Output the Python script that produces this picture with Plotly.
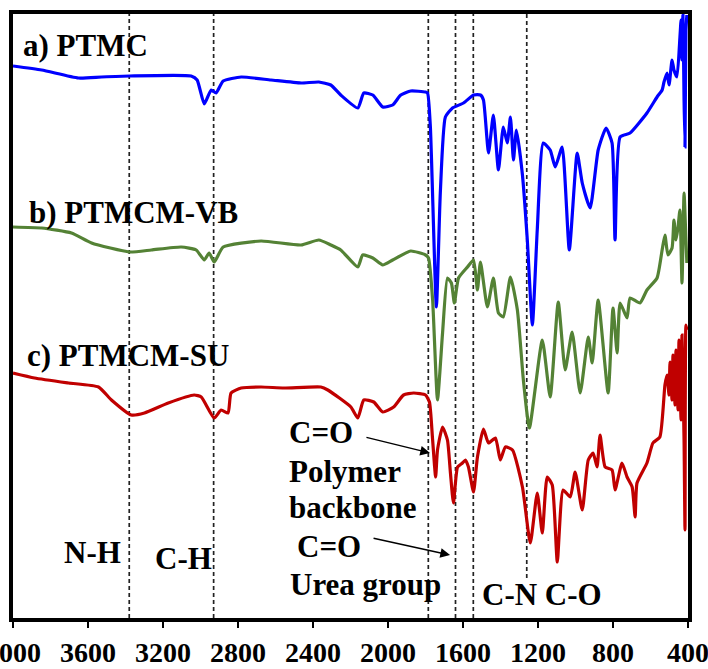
import plotly.graph_objects as go

# FTIR spectra (transmittance, arbitrary units, stacked with offsets)
wn_ptmc = [4000, 3847, 3651, 3528, 3379, 3050, 3018, 2980, 2943, 2917, 2879, 2783, 2624, 2464,
           2369, 2305, 2252, 2161, 2129, 2081, 2028, 1975, 1932, 1879, 1800, 1789, 1774, 1742,
           1721, 1694, 1656, 1597, 1544, 1507, 1491, 1464, 1438, 1411, 1385, 1364, 1347, 1331,
           1315, 1283, 1257, 1230, 1204, 1172, 1135, 1108, 1071, 1033, 991, 964, 922, 879, 837,
           805, 789, 762, 709, 619, 565, 538, 528, 512, 501, 485, 475, 459, 443, 437, 432, 427,
           421, 416, 411, 406]
t_ptmc = [554, 550, 542, 543, 544, 544, 540, 516, 530, 527, 539, 543, 540, 537,
          538, 535, 525, 512, 527, 525, 513, 515, 525, 529, 528, 527, 493, 313,
          427, 503, 512, 517, 525, 525, 520, 467, 505, 450, 493, 477, 503, 460,
          490, 445, 380, 295, 390, 477, 470, 453, 473, 370, 467, 437, 412, 470, 492,
          477, 380, 483, 487, 507, 523, 530, 538, 547, 535, 560, 550, 543, 583, 600, 560, 605,
          520, 473, 590, 605]

wn_vb = [4000, 3847, 3688, 3581, 3379, 3262, 3103, 3023, 2980, 2954, 2927, 2879, 2677, 2464,
         2369, 2305, 2252, 2161, 2135, 2081, 2028, 1975, 1879, 1800, 1784, 1762, 1736, 1709,
         1683, 1662, 1646, 1624, 1576, 1544, 1523, 1507, 1470, 1438, 1411, 1385, 1347, 1310,
         1278, 1246, 1177, 1135, 1092, 1055, 1018, 975, 932, 911, 879, 826, 800, 778, 762,
         725, 709, 656, 619, 565, 538, 523, 507, 485, 475, 464, 453, 443, 432, 421, 411, 406]
t_vb = [393, 392, 387, 377, 368, 370, 373, 370, 360, 367, 358, 373, 379, 375,
        380, 375, 370, 353, 365, 362, 355, 360, 369, 365, 362, 320, 220, 287,
        342, 337, 317, 342, 353, 360, 330, 358, 313, 342, 307, 303, 343, 310,
        240, 192, 280, 223, 318, 250, 288, 227, 283, 257, 320, 227, 312, 267, 317,
        302, 322, 317, 330, 342, 370, 385, 365, 372, 400, 380, 393, 410, 337, 427, 380, 357]

wn_su = [4000, 3885, 3704, 3544, 3475, 3369, 3299, 3172, 3034, 2996, 2927, 2890, 2853, 2837,
         2783, 2677, 2555, 2358, 2321, 2198, 2161, 2129, 2076, 2028, 1970, 1917, 1863, 1800,
         1779, 1762, 1746, 1736, 1709, 1683, 1667, 1651, 1629, 1603, 1587, 1571, 1544, 1523,
         1491, 1464, 1427, 1401, 1374, 1336, 1283, 1241, 1204, 1177, 1151, 1124, 1097, 1066,
         1028, 1002, 964, 932, 906, 885, 869, 842, 805, 789, 752, 725, 698, 682, 672, 619,
         587, 550, 523, 512, 501, 496, 485, 480, 469, 464, 453, 448, 437, 432, 421, 416,
         411, 406]
t_su = [247, 242, 237, 233, 220, 205, 207, 217, 225, 223, 202, 210, 207, 227,
        232, 233, 232, 233, 230, 213, 202, 220, 218, 208, 213, 225, 227, 225,
        218, 180, 143, 170, 193, 180, 147, 117, 153, 157, 160, 153, 128, 163,
        191, 177, 182, 160, 173, 170, 133, 77, 127, 87, 143, 135, 58, 130,
        123, 148, 110, 160, 167, 153, 185, 153, 150, 130, 157, 143, 133, 103, 137, 157,
        177, 183, 235, 245, 225, 258, 220, 265, 215, 270, 210, 280, 200, 285, 180, 90,
        295, 290]

# Band positions marked with dashed guides (cm-1)
band_lines = [3380, 2930, 1785, 1640, 1545, 1260]

x_ticks = [4000, 3600, 3200, 2800, 2400, 2000, 1600, 1200, 800, 400]

SERIF = "Liberation Serif"

fig = go.Figure()

for wn, t, col in [(wn_ptmc, t_ptmc, "#0000FF"),
                   (wn_vb, t_vb, "#548235"),
                   (wn_su, t_su, "#C00000")]:
    fig.add_trace(go.Scatter(x=wn, y=t, mode="lines",
                             line=dict(color=col, width=3.2, shape="spline", smoothing=0.5),
                             showlegend=False, hoverinfo="skip"))

# dashed guides
for b in band_lines:
    y_bottom = 42 if b == 1260 else 2
    fig.add_shape(type="line", xref="x", yref="y", x0=b, x1=b, y0=y_bottom, y1=606,
                  line=dict(color="#222222", width=1.7, dash="4px,3px"), layer="below")

labels = [
    ("a) PTMC", 3955, 575),
    ("b) PTMCM-VB", 3928, 408),
    ("c) PTMCM-SU", 3938, 265),
    ("C=O", 2539, 188),
    ("Polymer", 2539, 149),
    ("backbone", 2539, 113),
    ("C=O", 2496, 74),
    ("Urea group", 2533, 36),
    ("N-H", 3739, 68),
    ("C-H", 3253, 62),
    ("C-N C-O", 1510, 26),
]
for txt, xx, yy in labels:
    fig.add_annotation(x=xx, y=yy, xref="x", yref="y", text=txt, showarrow=False,
                       xanchor="left", yanchor="middle",
                       font=dict(family=SERIF, size=31, color="black", weight="bold"))

# arrows pointing at the carbonyl bands
for (hx, hy, tx, ty) in [(1776, 167, 2123, 183), (1669, 65, 2085, 82)]:
    fig.add_annotation(x=hx, y=hy, ax=tx, ay=ty, xref="x", yref="y", axref="x", ayref="y",
                       text="", showarrow=True, arrowhead=2, arrowsize=1.3, arrowwidth=1.5,
                       arrowcolor="black")

fig.update_xaxes(range=[4000, 400], tickvals=x_ticks, ticktext=[str(v) for v in x_ticks],
                 ticks="outside", ticklen=6, tickwidth=2, tickcolor="black",
                 ticklabeloverflow="allow", ticklabelstandoff=0, automargin=False,
                 showline=True, linewidth=4, linecolor="black", mirror=True,
                 showgrid=False, zeroline=False,
                 tickfont=dict(family=SERIF, size=28, color="black", weight="bold"))
fig.update_yaxes(range=[2, 606], showticklabels=False, ticks="", automargin=False,
                 showline=True, linewidth=4, linecolor="black", mirror=True,
                 showgrid=False, zeroline=False)

fig.update_layout(width=708, height=669, plot_bgcolor="white", paper_bgcolor="white",
                  margin=dict(l=13, r=20, t=14, b=51, autoexpand=False))

fig.write_html("out.html")
